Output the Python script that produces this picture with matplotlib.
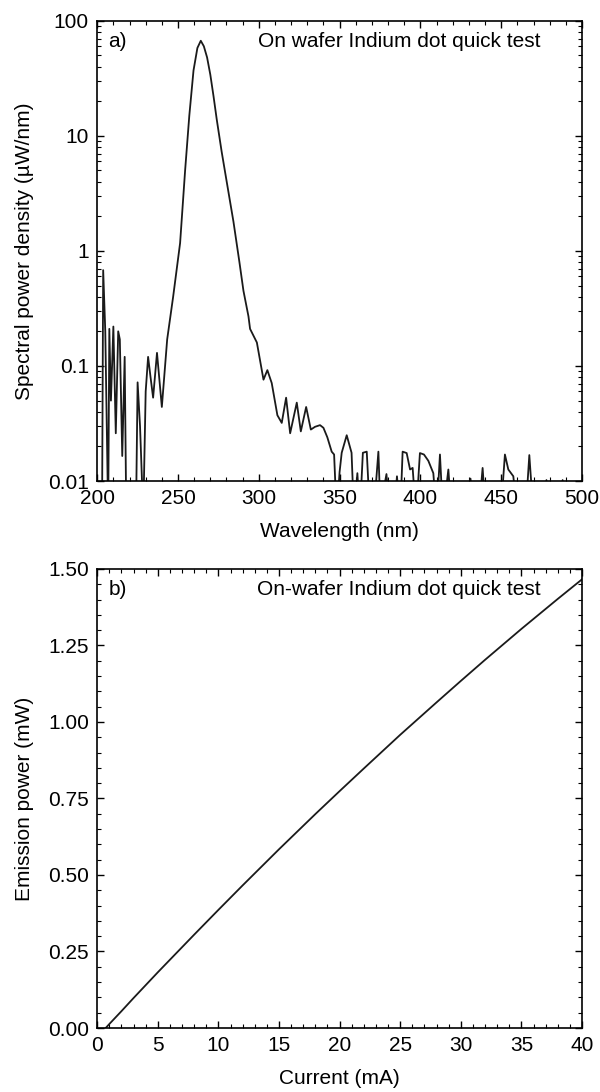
"""Two-panel figure: on-wafer spectrum (log) and L-I curve of the indium dot quick test."""
import numpy as np
import matplotlib
matplotlib.use('Agg')
import matplotlib.pyplot as plt
from matplotlib.ticker import MultipleLocator, LogLocator, NullFormatter

plt.rcParams['font.family'] = ['Liberation Sans', 'DejaVu Sans']
plt.rcParams['font.size'] = 15

# panel a) spectrum, values below 0.01 fall off the log axis
wavelength = [200, 203, 203.7, 205, 206.8, 207.5, 208.5, 210, 211.5, 213, 214, 215.5, 217,
              218, 224, 225, 226.5, 228.5, 230, 231.5, 233, 234.6, 237, 240, 243.3, 247,
              251.3, 254.4, 257, 259.6, 262, 264.1, 266, 268, 270, 272, 274, 277, 280,
              284.3, 288, 290.5, 293.6, 294.6, 298.8, 302.9, 305.3, 308, 311.5, 314.2,
              316.9, 319.4, 323.5, 326, 329.3, 332.2, 334.8, 337.9, 340, 342.4, 345.1,
              346.6, 348.2, 350, 351.3, 354.4, 357.4, 358.9, 361, 362.5, 364.4, 366.8,
              368.8, 371, 374, 375.4, 377, 379, 381, 383.5, 385.5, 387.5, 389, 391.5,
              393.6, 395.2, 397.3, 399.7, 402.2, 404.9, 408, 410, 412.1, 414, 417.3,
              419.3, 425, 431, 433, 436, 438.5, 440.5, 447, 450, 452.3, 454.4, 457.5,
              460, 465, 467.4, 470, 476, 478, 480, 486, 488, 490, 500]
spectrum = [0.005, 0.005, 0.68, 0.2, 0.005, 0.21, 0.05, 0.22, 0.026, 0.2, 0.17, 0.0165, 0.12,
            0.005, 0.005, 0.072, 0.03, 0.005, 0.06, 0.12, 0.08, 0.053, 0.13, 0.044, 0.17, 0.4,
            1.17, 5.0, 15.0, 37.0, 58.0, 67.0, 60.0, 48.0, 34.0, 22.0, 13.8, 7.3, 4.1,
            1.8, 0.8, 0.45, 0.27, 0.21, 0.16, 0.076, 0.092, 0.071, 0.0373, 0.032,
            0.053, 0.026, 0.048, 0.027, 0.044, 0.028, 0.0296, 0.0306, 0.029, 0.024, 0.018,
            0.017, 0.005, 0.012, 0.0176, 0.025, 0.0176, 0.005, 0.0117, 0.005, 0.0176, 0.018,
            0.005, 0.005, 0.018, 0.005, 0.008, 0.0115, 0.005, 0.005, 0.011, 0.005, 0.018,
            0.0175, 0.0126, 0.013, 0.005, 0.0175, 0.017, 0.015, 0.0117, 0.005, 0.017,
            0.005, 0.0126, 0.005, 0.005, 0.0105, 0.005, 0.005, 0.013, 0.005, 0.005, 0.006,
            0.017, 0.0126, 0.011, 0.005, 0.005, 0.0168, 0.005, 0.005, 0.0102, 0.005,
            0.005, 0.0102, 0.005, 0.005]

# panel b) emission power vs drive current
current = [0.7, 1, 2, 3, 4, 5, 6, 8, 10, 12, 15, 18, 20, 22, 25, 28, 30, 32, 35, 38, 40]
power = [0.0, 0.013, 0.055, 0.098, 0.14, 0.182, 0.223, 0.305, 0.386, 0.466, 0.584, 0.699,
         0.774, 0.848, 0.958, 1.064, 1.134, 1.203, 1.304, 1.402, 1.466]

LINE = '#1a1a1a'

fig = plt.figure(figsize=(6.0, 10.92), dpi=100)
axA = fig.add_axes([0.162, 0.5595, 0.808, 0.4215])
axB = fig.add_axes([0.162, 0.0586, 0.808, 0.4204])

for ax in (axA, axB):
    ax.tick_params(which='both', direction='in', top=True, right=True, labelsize=15, pad=6)
    ax.tick_params(which='major', length=5, width=1)
    ax.tick_params(which='minor', length=3, width=0.8)
    for s in ax.spines.values():
        s.set_linewidth(1.2)

axA.plot(wavelength, spectrum, color=LINE, linewidth=1.3)
axA.set_yscale('log')
axA.set_xlim(200, 500)
axA.set_ylim(0.01, 100)
axA.xaxis.set_major_locator(MultipleLocator(50))
axA.xaxis.set_minor_locator(MultipleLocator(10))
axA.yaxis.set_minor_locator(LogLocator(base=10, subs=np.arange(2, 10), numticks=10))
axA.yaxis.set_minor_formatter(NullFormatter())
axA.set_yticks([0.01, 0.1, 1, 10, 100])
axA.set_yticklabels(['0.01', '0.1', '1', '10', '100'])
axA.set_xlabel('Wavelength (nm)', fontsize=15, labelpad=10)
axA.set_ylabel('Spectral power density (µW/nm)', fontsize=15, labelpad=10)
axA.text(0.023, 0.955, 'a)', transform=axA.transAxes, ha='left', va='center', fontsize=15)
axA.text(0.915, 0.955, 'On wafer Indium dot quick test', transform=axA.transAxes,
         ha='right', va='center', fontsize=15)

axB.plot(current, power, color=LINE, linewidth=1.3)
axB.set_xlim(0, 40)
axB.set_ylim(0, 1.5)
axB.xaxis.set_major_locator(MultipleLocator(5))
axB.xaxis.set_minor_locator(MultipleLocator(1))
axB.yaxis.set_major_locator(MultipleLocator(0.25))
axB.yaxis.set_minor_locator(MultipleLocator(0.05))
axB.yaxis.set_major_formatter(plt.FormatStrFormatter('%.2f'))
axB.set_xlabel('Current (mA)', fontsize=15, labelpad=10)
axB.set_ylabel('Emission power (mW)', fontsize=15, labelpad=10)
axB.text(0.023, 0.955, 'b)', transform=axB.transAxes, ha='left', va='center', fontsize=15)
axB.text(0.915, 0.955, 'On-wafer Indium dot quick test', transform=axB.transAxes,
         ha='right', va='center', fontsize=15)

fig.savefig('out.png', dpi=100)
plt.close(fig)
